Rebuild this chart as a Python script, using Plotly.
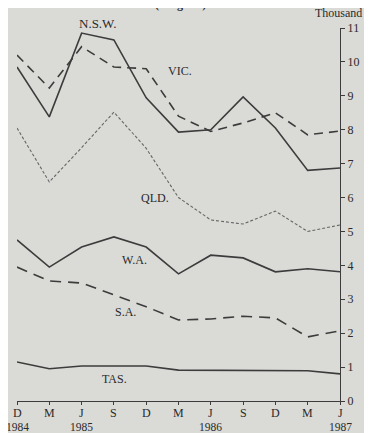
import plotly.graph_objects as go

# ---- data ----
months = ["D", "M", "J", "S", "D", "M", "J", "S", "D", "M", "J"]
years = ["1984", "1985", "1986", "1987"]
year_tick_index = [0, 2, 6, 10]

nsw = [9.85, 8.38, 10.85, 10.65, 8.94, 7.93, 8.0, 8.97, 8.05, 6.8, 6.87]
vic = [10.2, 9.23, 10.45, 9.85, 9.8, 8.4, 7.95, 8.2, 8.5, 7.85, 7.96]
qld = [8.05, 6.46, 7.47, 8.52, 7.45, 6.0, 5.34, 5.22, 5.6, 5.0, 5.19]
wa = [4.75, 3.95, 4.54, 4.84, 4.54, 3.75, 4.3, 4.22, 3.81, 3.9, 3.81]
sa = [3.95, 3.54, 3.48, 3.13, 2.78, 2.39, 2.42, 2.5, 2.45, 1.89, 2.07]
tas = [1.15, 0.95, 1.03, 1.03, 1.03, 0.91, 0.91, 0.91, 0.91, 0.89, 0.8]

y_ticks = list(range(0, 12))

series_names = ["N.S.W.", "VIC.", "QLD.", "W.A.", "S.A.", "TAS."]
series_values = [nsw, vic, qld, wa, sa, tas]

# ---- styles ----
INK = "#3c3c3c"
TXT = "#2a2a2a"
BG = "rgb(218,218,215)"
FONT = "Liberation Serif"
styles = {
    "N.S.W.": dict(color=INK, width=1.6, dash="solid"),
    "VIC.": dict(color=INK, width=1.6, dash="9px,6px"),
    "QLD.": dict(color="#666666", width=1.1, dash="3px,2px"),
    "W.A.": dict(color=INK, width=1.6, dash="solid"),
    "S.A.": dict(color=INK, width=1.6, dash="11px,7px"),
    "TAS.": dict(color=INK, width=1.6, dash="solid"),
}
# label positions in paper coordinates
label_pos = {
    "N.S.W.": (0.248, 1.013),
    "VIC.": (0.505, 0.885),
    "QLD.": (0.427, 0.544),
    "W.A.": (0.365, 0.378),
    "S.A.": (0.337, 0.239),
    "TAS.": (0.303, 0.059),
}

x = list(range(len(months)))

fig = go.Figure()
for name, vals in zip(series_names, series_values):
    fig.add_trace(go.Scatter(x=x, y=vals, mode="lines", name=name,
                             line=styles[name], cliponaxis=False,
                             showlegend=False, hoverinfo="skip"))

annotations = []
for name in series_names:
    lx, ly = label_pos[name]
    annotations.append(dict(x=lx, y=ly, xref="paper", yref="paper", text=name,
                            showarrow=False, xanchor="center", yanchor="middle",
                            font=dict(family=FONT, size=13 if name == "N.S.W." else 12,
                                      color=TXT)))
for xi, m in zip(x, months):
    annotations.append(dict(x=xi, y=-0.032, xref="x", yref="paper", text=m,
                            showarrow=False, xanchor="center", yanchor="middle",
                            font=dict(family=FONT, size=12, color=TXT)))
for yi, yr in zip(year_tick_index, years):
    annotations.append(dict(x=yi, y=-0.0695, xref="x", yref="paper", text=yr,
                            showarrow=False, xanchor="center", yanchor="middle",
                            font=dict(family=FONT, size=11.5, color=TXT)))
annotations.append(dict(x=0.505, y=1.064, xref="paper", yref="paper",
                        text="<b>(Original)</b>", showarrow=False,
                        xanchor="center", yanchor="middle",
                        font=dict(family=FONT, size=12, color=TXT)))
annotations.append(dict(x=1.074, y=1.040, xref="paper", yref="paper",
                        text="Thousand", showarrow=False,
                        xanchor="right", yanchor="middle",
                        font=dict(family=FONT, size=12, color=TXT)))

# page body has an 8px margin: shrink the figure so it lands where the reference is
fig.update_layout(
    width=364, height=425,
    margin=dict(l=9, r=32, t=20, b=32),
    paper_bgcolor=BG, plot_bgcolor=BG,
    annotations=annotations,
    font=dict(family=FONT, size=12, color=TXT),
    xaxis=dict(range=[0, 10], tickmode="array", tickvals=x, ticktext=months,
               showticklabels=False,
               showgrid=False, zeroline=False, showline=True, linecolor=INK,
               linewidth=1.4, ticks="outside", ticklen=3, tickcolor=INK,
               fixedrange=True),
    yaxis=dict(range=[0, 11], side="right", tickmode="array", tickvals=y_ticks,
               ticktext=[str(v) for v in y_ticks],
               showgrid=False, zeroline=False, showline=True, linecolor=INK,
               linewidth=1.4, ticks="outside", ticklen=4, tickcolor=INK,
               tickfont=dict(family=FONT, size=12, color=TXT),
               fixedrange=True),
)

fig.write_html("out.html")
